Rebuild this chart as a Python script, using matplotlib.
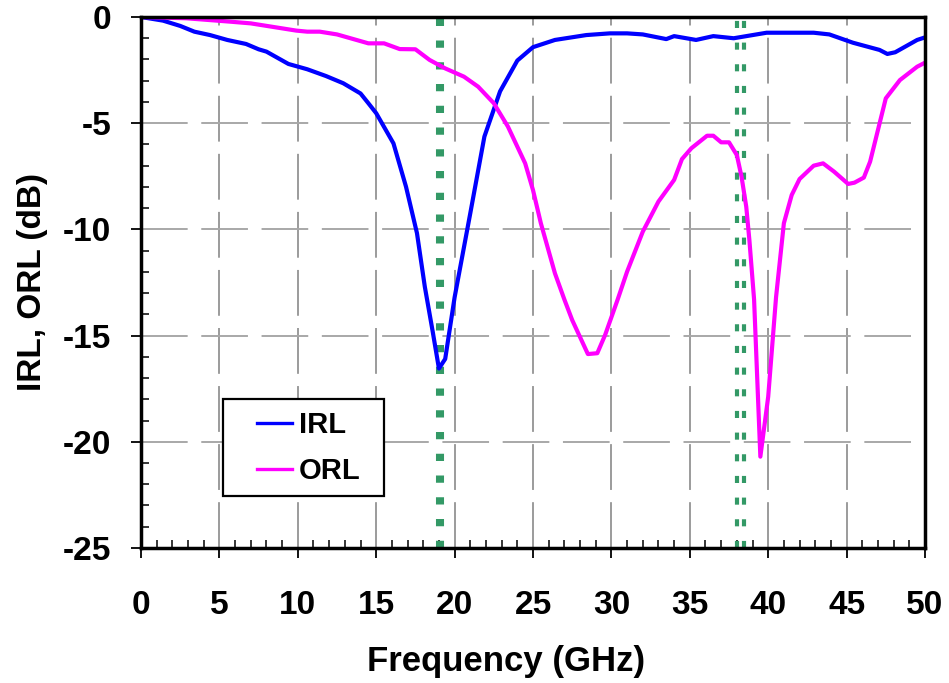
import matplotlib
matplotlib.use("Agg")
import matplotlib.pyplot as plt
from matplotlib.ticker import MultipleLocator
from matplotlib.patches import Rectangle
from matplotlib.lines import Line2D

# ---- data ----
irl_freq = [0, 1.4, 2.5, 3.4, 4.4, 5.5, 6.7, 7.5, 8.0, 9.4, 10.6, 11.8, 12.9, 14.0,
            14.5, 15.0, 16.1, 16.9, 17.6, 18.1, 18.6, 19.0, 19.4, 20.0, 21.0, 21.9,
            22.9, 24.0, 25.0, 26.4, 28.4, 29.9, 31.0, 32.0, 33.5, 34.0, 35.4, 36.5,
            37.8, 39.9, 42.9, 43.9, 45.4, 47.1, 47.6, 48.1, 49.5, 50]
irl_db = [0, -0.17, -0.42, -0.69, -0.85, -1.08, -1.27, -1.52, -1.63, -2.21, -2.46,
          -2.78, -3.12, -3.6, -4.06, -4.53, -5.95, -7.99, -10.18, -12.7, -14.8,
          -16.55, -16.1, -13.2, -9.24, -5.63, -3.5, -2.05, -1.42, -1.08, -0.85,
          -0.77, -0.77, -0.82, -1.04, -0.9, -1.08, -0.9, -1.0, -0.74, -0.74, -0.82,
          -1.21, -1.55, -1.74, -1.66, -1.08, -0.96]

orl_freq = [0, 2.9, 5.7, 7.0, 9.9, 10.6, 11.4, 12.5, 14.5, 15.5, 16.5, 17.5, 18.4,
            19.4, 20.6, 21.5, 22.5, 23.4, 24.5, 25.0, 25.5, 26.4, 27.0, 27.5, 28.5,
            29.1, 29.6, 30.4, 31.0, 32.0, 33.0, 34.0, 34.5, 35.1, 36.1, 36.5, 37.0,
            37.5, 38.0, 38.3, 38.6, 38.8, 39.1, 39.5, 40.0, 40.5, 41.0, 41.5, 42.0,
            42.9, 43.5, 44.2, 45.1, 45.5, 46.1, 46.5, 47.0, 47.5, 48.4, 49.5, 50]
orl_db = [0, -0.06, -0.22, -0.3, -0.64, -0.69, -0.69, -0.82, -1.24, -1.24, -1.51,
          -1.52, -2.02, -2.42, -2.81, -3.28, -4.06, -5.16, -6.89, -8.15, -9.71,
          -12.07, -13.3, -14.27, -15.87, -15.83, -14.97, -13.3, -11.99, -10.11,
          -8.69, -7.67, -6.69, -6.18, -5.59, -5.59, -5.9, -5.9, -6.5, -7.52, -8.93,
          -10.5, -13.3, -20.7, -17.88, -13.2, -9.71, -8.38, -7.63, -7.0, -6.89,
          -7.28, -7.86, -7.8, -7.56, -6.81, -5.32, -3.83, -2.97, -2.34, -2.15]

marker_single = [19.07]
marker_double = [38.0, 38.45]

series_labels = ["IRL", "ORL"]
x_label = "Frequency (GHz)"
y_label = "IRL, ORL (dB)"

# ---- style ----
plt.rcParams['font.family'] = ['Liberation Sans', 'DejaVu Sans']
plt.rcParams['font.weight'] = 'bold'
plt.rcParams['axes.unicode_minus'] = False

fig = plt.figure(figsize=(9.49, 6.83), dpi=100)
ax = fig.add_axes([0.1486, 0.1977, 0.9747 - 0.1486, 0.9751 - 0.1977])

ax.set_xlim(0, 50)
ax.set_ylim(-25, 0)

# grid
for xv in range(5, 50, 5):
    ax.axvline(xv, color='#808080', lw=1.1, dashes=(30, 8), zorder=1)
for yv in range(-20, 0, 5):
    ax.axhline(yv, color='#a8a8a8', lw=1.4, dashes=(24, 7), zorder=1)

# marker lines
for xv in marker_single:
    ax.axvline(xv, color='#339966', lw=5.8, dashes=(0.9, 1.8), zorder=2)
for xv in marker_double:
    ax.axvline(xv, color='#339966', lw=3.0, dashes=(1.7, 3.5), zorder=2)

ax.plot(irl_freq, irl_db, color='#0000ff', lw=3.0, zorder=3)
ax.plot(orl_freq, orl_db, color='#ff00ff', lw=3.0, zorder=3)

# spines
for s in ax.spines.values():
    s.set_linewidth(2.5)
    s.set_zorder(4)

ax.xaxis.set_major_locator(MultipleLocator(5))
ax.xaxis.set_minor_locator(MultipleLocator(1))
ax.yaxis.set_major_locator(MultipleLocator(5))
ax.yaxis.set_minor_locator(MultipleLocator(1))
ax.tick_params(which='major', direction='out', length=7.5, width=1.3,
               labelsize=24, pad=14, top=False, right=False)
ax.tick_params(which='minor', direction='in', length=6, width=1.1,
               top=False, right=False)
ax.tick_params(axis='x', which='major', pad=23)
for lab in ax.get_xticklabels() + ax.get_yticklabels():
    lab.set_fontweight('bold')

ax.set_xlabel(x_label, fontsize=25, fontweight='bold')
ax.xaxis.set_label_coords(0.4656, -0.183)
ax.set_ylabel(y_label, fontsize=24, fontweight='bold', labelpad=11)

# legend
handles = [Line2D([], [], color='#0000ff', lw=2.4),
           Line2D([], [], color='#ff00ff', lw=2.4)]
leg = ax.legend(handles, series_labels, loc='center left',
                bbox_to_anchor=(0.1288, 0.188), frameon=False, borderpad=0,
                handlelength=1.2, handletextpad=0.25, labelspacing=0.62,
                prop={'size': 21, 'weight': 'bold'})
leg.set_zorder(6)
ax.add_patch(Rectangle((0.104, 0.0985), 0.2054, 0.1815, transform=ax.transAxes,
                       facecolor='white', edgecolor='black', lw=1.6, zorder=5))

fig.savefig("out.png", dpi=100)
